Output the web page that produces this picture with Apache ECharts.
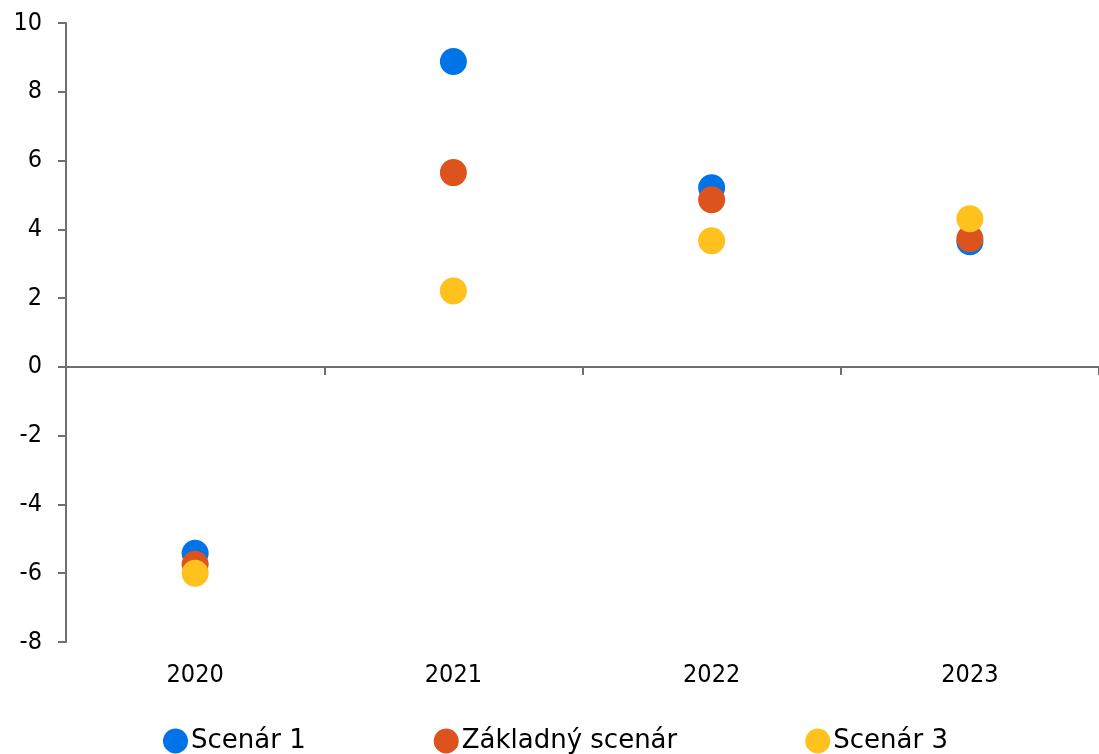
<!DOCTYPE html>
<html>
<head>
<meta charset="utf-8">
<script src="https://cdn.jsdelivr.net/npm/echarts@6/dist/echarts.min.js"></script>
<style>
  html, body { margin: 0; padding: 0; background: #fff; }
  #chart { width: 1099px; height: 754px; }
</style>
</head>
<body>
<div id="chart"></div>
<script>
// Years on the horizontal axis
const years = ['2020', '2021', '2022', '2023'];

// Values per scenario
const scenar1 = [-5.42, 8.88, 5.21, 3.64];
const zakladny = [-5.74, 5.65, 4.86, 3.73];
const scenar3 = [-6.0, 2.21, 3.67, 4.31];

// Vertical axis range
const yMin = -8;
const yMax = 10;
const yStep = 2;

const AXIS_FONT = '"DejaVu Sans Condensed", "DejaVu Sans", Tahoma, sans-serif';
const LEGEND_FONT = '"DejaVu Sans", Verdana, sans-serif';
const AXIS_GRAY = '#6f6f6f';

const chart = echarts.init(document.getElementById('chart'));

function scatter(name, data, color) {
  return {
    name: name,
    type: 'scatter',
    xAxisIndex: 0,
    data: data,
    symbol: 'circle',
    symbolSize: 27,
    itemStyle: { color: color, opacity: 1 },
    emphasis: { disabled: true }
  };
}

chart.setOption({
  animation: false,
  backgroundColor: '#fff',
  textStyle: { fontFamily: AXIS_FONT },
  grid: { left: 66, top: 23, width: 1036, height: 619 },
  legend: {
    top: 723,
    left: 158,
    itemWidth: 25,
    itemHeight: 25,
    itemGap: 128,
    icon: 'circle',
    textStyle: { fontFamily: LEGEND_FONT, fontSize: 26, color: '#000', padding: [0, 0, 0, -2] },
    data: ['Scenár 1', 'Základný scenár', 'Scenár 3']
  },
  xAxis: [
    {
      type: 'category',
      data: years,
      position: 'bottom',
      axisLine: { show: false, onZero: false },
      axisTick: { show: false },
      axisLabel: { fontFamily: AXIS_FONT, fontSize: 25, color: '#000', margin: 21 },
      splitLine: { show: false }
    },
    {
      type: 'category',
      data: years,
      position: 'top',
      axisLine: { show: true, onZero: true, lineStyle: { color: AXIS_GRAY, width: 2 } },
      axisTick: { show: true, inside: true, length: 8, lineStyle: { color: AXIS_GRAY, width: 2 } },
      axisLabel: { show: false },
      splitLine: { show: false }
    }
  ],
  yAxis: {
    type: 'value',
    min: yMin,
    max: yMax,
    interval: yStep,
    axisLine: { show: true, lineStyle: { color: AXIS_GRAY, width: 2 } },
    axisTick: { show: true, length: 8, lineStyle: { color: AXIS_GRAY, width: 2 } },
    axisLabel: { fontFamily: AXIS_FONT, fontSize: 25, color: '#000', margin: 24 },
    splitLine: { show: false }
  },
  series: [
    scatter('Scenár 1', scenar1, '#0073E6'),
    scatter('Základný scenár', zakladny, '#DC531D'),
    scatter('Scenár 3', scenar3, '#FFC11E')
  ]
});
</script>
</body>
</html>
